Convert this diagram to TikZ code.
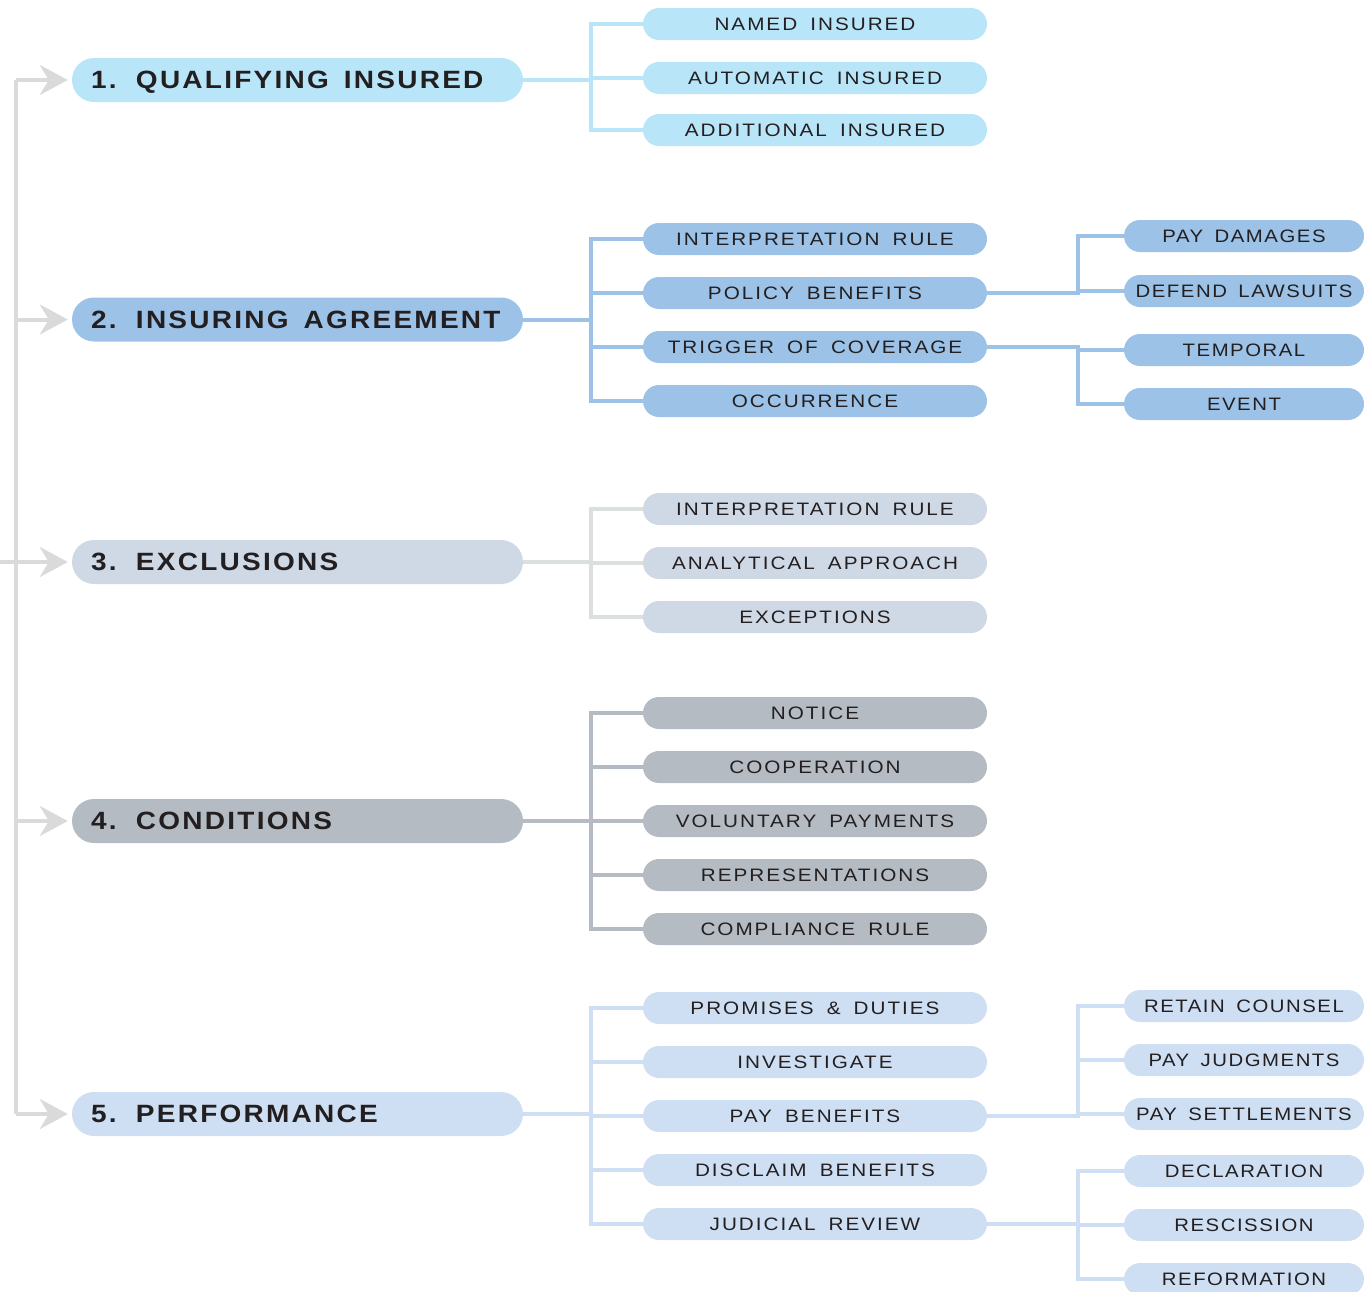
\documentclass[tikz,border=0pt]{standalone}
\usepackage{fontspec}
\setmainfont{Liberation Sans}
\newfontfamily\itemfont[FakeStretch=1.15,LetterSpace=11,WordSpace=1.7]{Liberation Sans}
\newfontfamily\leaffont[FakeStretch=1.13,LetterSpace=8.5,WordSpace=1.6]{Liberation Sans}
\newfontfamily\headfont[FakeStretch=1.12,LetterSpace=9]{Liberation Sans}
\usetikzlibrary{arrows.meta}
\definecolor{txt}{HTML}{231F20}
\definecolor{cA}{HTML}{B9E5F9}
\definecolor{cB}{HTML}{9CC2E7}
\definecolor{cC}{HTML}{CFD9E6}
\definecolor{cCl}{HTML}{DCE0DD}
\definecolor{cD}{HTML}{B4BBC2}
\definecolor{cE}{HTML}{CFDFF3}
\definecolor{trunkc}{HTML}{DADADA}
\newcommand{\headtext}[2]{\makebox[413pt][l]{\makebox[45pt][l]{#1}#2}}
\newcommand{\wsp}{\hspace{15pt}}
\tikzset{
  headbox/.style={rectangle, rounded corners=22pt, minimum height=44pt, inner ysep=0pt,
    inner xsep=19pt, text=txt,
    text height=17.9pt, text depth=0pt,
    font=\headfont\bfseries\fontsize{25}{25}\selectfont},
  itembox/.style={rectangle, rounded corners=16pt, minimum height=32pt, minimum width=344pt,
    inner sep=0pt, text=txt, text height=12.9pt, text depth=0pt,
    font=\itemfont\fontsize{18}{18}\selectfont},
  leafbox/.style={itembox, minimum width=240pt, font=\leaffont\fontsize{18}{18}\selectfont},
  conn/.style={line width=4pt},
  trunk/.style={line width=4pt, draw=trunkc},
  arr/.style={trunk, -{Stealth[length=28pt,width=30pt,inset=9pt]}, shorten >=4pt}
}
\begin{document}
\begin{tikzpicture}[x=1pt,y=-1pt]
\useasboundingbox (0,0) rectangle (1364,1291);
% main nodes
\node[headbox, fill=cA] (m1) at (297.5,80) {\headtext{1.}{QUALIFYING\wsp INSURED}};
\node[headbox, fill=cB] (m2) at (297.5,319.5) {\headtext{2.}{INSURING\wsp AGREEMENT}};
\node[headbox, fill=cC] (m3) at (297.5,562) {\headtext{3.}{EXCLUSIONS}};
\node[headbox, fill=cD] (m4) at (297.5,821) {\headtext{4.}{CONDITIONS}};
\node[headbox, fill=cE] (m5) at (297.5,1114) {\headtext{5.}{PERFORMANCE}};
% group 1
\node[itembox, fill=cA] (a1) at (815,24) {NAMED INSURED};
\node[itembox, fill=cA] (a2) at (815,78) {AUTOMATIC INSURED};
\node[itembox, fill=cA] (a3) at (815,130) {ADDITIONAL INSURED};
% group 2
\node[itembox, fill=cB] (b1) at (815,239) {INTERPRETATION RULE};
\node[itembox, fill=cB] (b2) at (815,293) {POLICY BENEFITS};
\node[itembox, fill=cB] (b3) at (815,347) {TRIGGER OF COVERAGE};
\node[itembox, fill=cB] (b4) at (815,401) {OCCURRENCE};
\node[leafbox, fill=cB] (b21) at (1244,236) {PAY DAMAGES};
\node[leafbox, fill=cB] (b22) at (1244,291) {DEFEND LAWSUITS};
\node[leafbox, fill=cB] (b31) at (1244,350) {TEMPORAL};
\node[leafbox, fill=cB] (b32) at (1244,404) {EVENT};
% group 3
\node[itembox, fill=cC] (c1) at (815,509) {INTERPRETATION RULE};
\node[itembox, fill=cC] (c2) at (815,563) {ANALYTICAL APPROACH};
\node[itembox, fill=cC] (c3) at (815,617) {EXCEPTIONS};
% group 4
\node[itembox, fill=cD] (d1) at (815,713) {NOTICE};
\node[itembox, fill=cD] (d2) at (815,767) {COOPERATION};
\node[itembox, fill=cD] (d3) at (815,821) {VOLUNTARY PAYMENTS};
\node[itembox, fill=cD] (d4) at (815,875) {REPRESENTATIONS};
\node[itembox, fill=cD] (d5) at (815,929) {COMPLIANCE RULE};
% group 5
\node[itembox, fill=cE] (e1) at (815,1008) {PROMISES \& DUTIES};
\node[itembox, fill=cE] (e2) at (815,1062) {INVESTIGATE};
\node[itembox, fill=cE] (e3) at (815,1116) {PAY BENEFITS};
\node[itembox, fill=cE] (e4) at (815,1170) {DISCLAIM BENEFITS};
\node[itembox, fill=cE] (e5) at (815,1224) {JUDICIAL REVIEW};
\node[leafbox, fill=cE] (e31) at (1244,1006) {RETAIN COUNSEL};
\node[leafbox, fill=cE] (e32) at (1244,1060) {PAY JUDGMENTS};
\node[leafbox, fill=cE] (e33) at (1244,1114) {PAY SETTLEMENTS};
\node[leafbox, fill=cE] (e51) at (1244,1171) {DECLARATION};
\node[leafbox, fill=cE] (e52) at (1244,1225) {RESCISSION};
\node[leafbox, fill=cE] (e53) at (1244,1279) {REFORMATION};
% connectors
\foreach \c in {a1,a2,a3} \draw[conn, draw=cA] (m1.east) -- ++(68,0) |- (\c.west);
\foreach \c in {b1,b2,b3,b4} \draw[conn, draw=cB] (m2.east) -- ++(68,0) |- (\c.west);
\foreach \c in {b21,b22} \draw[conn, draw=cB] (b2.east) -- ++(91,0) |- (\c.west);
\foreach \c in {b31,b32} \draw[conn, draw=cB] (b3.east) -- ++(91,0) |- (\c.west);
\foreach \c in {c1,c2,c3} \draw[conn, draw=cCl] (m3.east) -- ++(68,0) |- (\c.west);
\foreach \c in {d1,d2,d3,d4,d5} \draw[conn, draw=cD] (m4.east) -- ++(68,0) |- (\c.west);
\foreach \c in {e1,e2,e3,e4,e5} \draw[conn, draw=cE] (m5.east) -- ++(68,0) |- (\c.west);
\foreach \c in {e31,e32,e33} \draw[conn, draw=cE] (e3.east) -- ++(91,0) |- (\c.west);
\foreach \c in {e51,e52,e53} \draw[conn, draw=cE] (e5.east) -- ++(91,0) |- (\c.west);
% trunk
\coordinate (tx) at (16,0);
\coordinate (lx) at (0,0);
\draw[trunk] (m1.west -| tx) -- (m5.west -| tx);
\draw[arr] (m1.west -| tx) -- (m1.west);
\draw[arr] (m2.west -| tx) -- (m2.west);
\draw[arr] (m3.west -| lx) -- (m3.west);
\draw[arr] (m4.west -| tx) -- (m4.west);
\draw[arr] (m5.west -| tx) -- (m5.west);
\end{tikzpicture}
\end{document}
